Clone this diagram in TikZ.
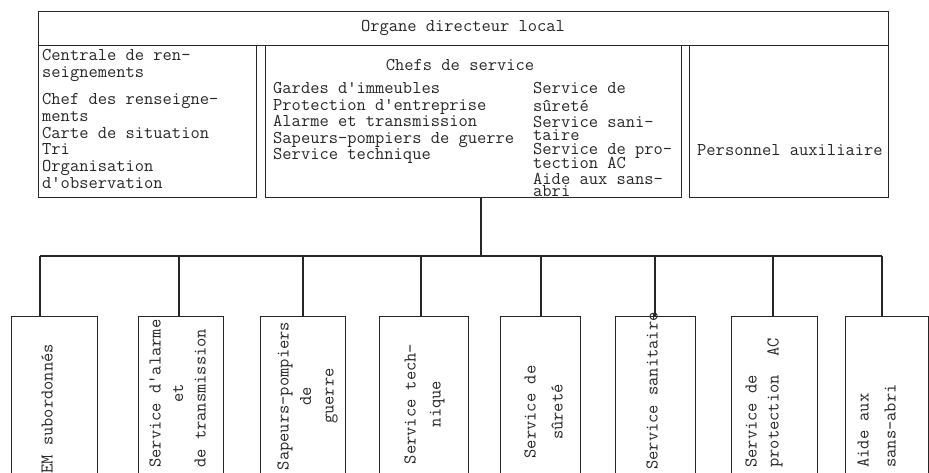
\documentclass[tikz,border=0pt]{standalone}
\begin{document}
\begin{tikzpicture}[x=1pt,y=-1pt,
  ink/.style={draw=black!85, line width=1.2pt},
  box/.style={ink, rectangle, inner sep=0pt, anchor=north west},
  txt/.style={font=\ttfamily\fontsize{18}{16.8}\selectfont, text=black!85, inner sep=0pt},
  rtxt/.style={txt, rotate=90, font=\ttfamily\fontsize{18}{22.5}\selectfont},
]
\useasboundingbox (0,0) rectangle (929,473);
\clip (0,0) rectangle (929,473);

% upper part
\node[box, minimum width=850, minimum height=34] (top) at (38,11) {};
\node[txt] (toplbl) at (463,28) {Organe directeur local};

\node[box, minimum width=218, minimum height=152] (left) at (38,45) {};
\node[txt, anchor=north west, align=left] (lefttxt) at (42,49.5)
  {Centrale de ren-\\seignements\\[10pt]Chef des renseigne-\\ments\\Carte de situation\\Tri\\Organisation\\d'observation};

\node[box, minimum width=416, minimum height=152] (mid) at (265,45) {};
\node[txt] (midtitle) at (460,65) {Chefs de service};
\node[txt, anchor=north west, align=left, font=\ttfamily\fontsize{18}{16.5}\selectfont] (midleft) at (273,82.5)
  {Gardes d'immeubles\\Protection d'entreprise\\Alarme et transmission\\Sapeurs-pompiers de guerre\\Service technique};
\node[txt, anchor=north west, align=left, font=\ttfamily\fontsize{18}{16.5}\selectfont] (midright) at (533,82.5)
  {Service de\\[1.5pt]sûreté\\[-0.5pt]Service sani-\\[-3.5pt]taire\\[-2.5pt]Service de pro-\\[-2.5pt]tection AC\\[-0.5pt]Aide aux sans-\\[-4.5pt]abri};

\node[box, minimum width=199, minimum height=152] (right) at (689,45) {};
\node[txt, anchor=west] (righttxt) at (697,150) {Personnel auxiliaire};

% lower boxes
\node[box, minimum width=86, minimum height=175] (b1) at (11,316) {};
\node[box, minimum width=85, minimum height=175] (b2) at (138,316) {};
\node[box, minimum width=85, minimum height=175] (b3) at (260,316) {};
\node[box, minimum width=89, minimum height=175] (b4) at (379,316) {};
\node[box, minimum width=80, minimum height=175] (b5) at (500,316) {};
\node[box, minimum width=80, minimum height=175] (b6) at (615,316) {};
\node[box, minimum width=86, minimum height=175] (b7) at (731,316) {};
\node[box, minimum width=83, minimum height=175] (b8) at (845,316) {};

\node[rtxt, anchor=west] (t1) at (47,474) {EM subordonnés};
\node[rtxt, anchor=west, align=left] (t2) at (177.5,468) {Service d'alarme\\\hphantom{Service}et\\de transmission};
\node[rtxt, align=center] (t3) at (307.5,396) {Sapeurs-pompiers\\de\\guerre};
\node[rtxt, align=center, font=\ttfamily\fontsize{18}{25}\selectfont] (t4) at (424.5,404) {Service tech-\\nique};
\node[rtxt, align=center, font=\ttfamily\fontsize{18}{27}\selectfont] (t5) at (543.5,412) {Service de\\sûreté};
\node[rtxt, anchor=west] (t6) at (652,470) {Service sanitaire};
\node[rtxt, anchor=west, align=left, font=\ttfamily\fontsize{18}{22}\selectfont] (t7) at (764,468) {Service de\\protection~~AC};
\node[rtxt, anchor=west, align=left, font=\ttfamily\fontsize{18}{27}\selectfont] (t8) at (876.5,468) {Aide aux\\sans-abri};

% connectors
\coordinate (hub) at (481,256);
\coordinate (busL) at (40,256);
\coordinate (busR) at (882,256);
\draw[ink] (hub |- mid.south) -- (hub);
\draw[ink] (busL) -- (busR);
\coordinate (d1) at (40,256);
\coordinate (d2) at (179,256);
\coordinate (d3) at (303,256);
\coordinate (d4) at (421,256);
\coordinate (d5) at (541,256);
\coordinate (d6) at (655,256);
\coordinate (d7) at (773,256);
\coordinate (d8) at (882,256);
\foreach \i in {1,...,8} {\draw[ink] (d\i) -- (d\i |- b\i.north);}
\end{tikzpicture}
\end{document}
